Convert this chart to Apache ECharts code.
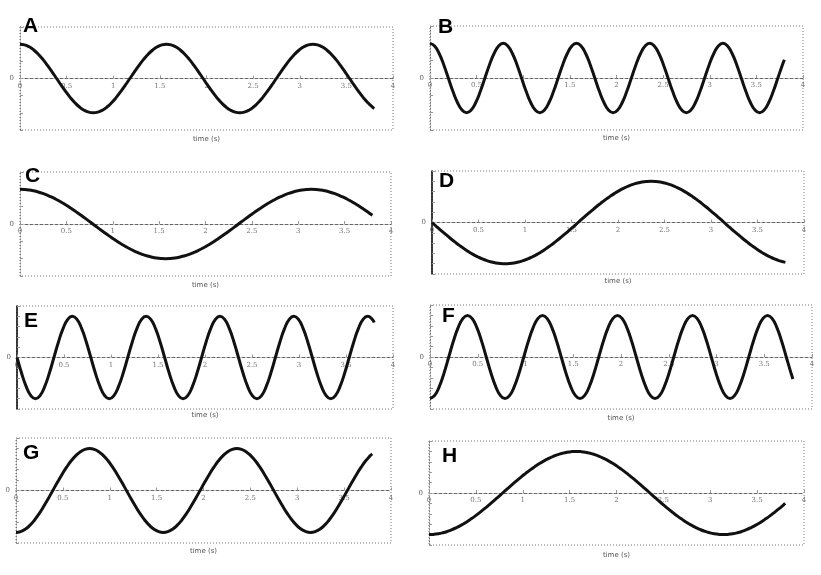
<!DOCTYPE html>
<html>
<head>
<meta charset="utf-8">
<script src="https://cdn.jsdelivr.net/npm/echarts@6/dist/echarts.min.js"></script>
<style>html,body{margin:0;padding:0;background:#fff}#main{width:821px;height:575px}</style>
</head>
<body>
<div id="main"></div>
<script>
// ---- data ----
const panelLabels = ['A','B','C','D','E','F','G','H'];
const xTickLabels = ['0','0.5','1','1.5','2','2.5','3','3.5','4'];
const axisTitle = 'time (s)';

const timeSamples = [0,0.0491,0.0982,0.1473,0.1963,0.2454,0.2945,0.3436,0.3927,0.4418,0.4909,0.5400,0.5890,0.6381,0.6872,0.7363,0.7854,0.8345,0.8836,0.9327,0.9817,1.0308,1.0799,1.1290,1.1781,1.2272,1.2763,1.3254,1.3744,1.4235,1.4726,1.5217,1.5708,1.6199,1.6690,1.7181,1.7671,1.8162,1.8653,1.9144,1.9635,2.0126,2.0617,2.1108,2.1598,2.2089,2.2580,2.3071,2.3562,2.4053,2.4544,2.5035,2.5525,2.6016,2.6507,2.6998,2.7489,2.7980,2.8471,2.8962,2.9452,2.9943,3.0434,3.0925,3.1416,3.1907,3.2398,3.2889,3.3379,3.3870,3.4361,3.4852,3.5343,3.5834,3.6325,3.6816,3.7306,3.7797,3.8];

const valuesA = [1,0.981,0.924,0.831,0.707,0.556,0.383,0.195,0,-0.195,-0.383,-0.556,-0.707,-0.831,-0.924,-0.981,-1,-0.981,-0.924,-0.831,-0.707,-0.556,-0.383,-0.195,0,0.195,0.383,0.556,0.707,0.831,0.924,0.981,
  1,0.981,0.924,0.831,0.707,0.556,0.383,0.195,0,-0.195,-0.383,-0.556,-0.707,-0.831,-0.924,-0.981,-1,-0.981,-0.924,-0.831,-0.707,-0.556,-0.383,-0.195,0,0.195,0.383,0.556,0.707,0.831,0.924,0.981,
  1,0.981,0.924,0.831,0.707,0.556,0.383,0.195,0,-0.195,-0.383,-0.556,-0.707,-0.831,-0.873];
const valuesB = [1,0.924,0.707,0.383,0,-0.383,-0.707,-0.924,-1,-0.924,-0.707,-0.383,0,0.383,0.707,0.924,
  1,0.924,0.707,0.383,0,-0.383,-0.707,-0.924,-1,-0.924,-0.707,-0.383,0,0.383,0.707,0.924,
  1,0.924,0.707,0.383,0,-0.383,-0.707,-0.924,-1,-0.924,-0.707,-0.383,0,0.383,0.707,0.924,
  1,0.924,0.707,0.383,0,-0.383,-0.707,-0.924,-1,-0.924,-0.707,-0.383,0,0.383,0.707,0.924,
  1,0.924,0.707,0.383,0,-0.383,-0.707,-0.924,-1,-0.924,-0.707,-0.383,0,0.383,0.527];
const valuesC = [1,0.995,0.981,0.957,0.924,0.882,0.831,0.773,0.707,0.634,0.556,0.471,0.383,0.290,0.195,0.098,0,-0.098,-0.195,-0.290,-0.383,-0.471,-0.556,-0.634,-0.707,-0.773,-0.831,-0.882,-0.924,-0.957,-0.981,-0.995,
  -1,-0.995,-0.981,-0.957,-0.924,-0.882,-0.831,-0.773,-0.707,-0.634,-0.556,-0.471,-0.383,-0.290,-0.195,-0.098,0,0.098,0.195,0.290,0.383,0.471,0.556,0.634,0.707,0.773,0.831,0.882,0.924,0.957,0.981,0.995,
  1,0.995,0.981,0.957,0.924,0.882,0.831,0.773,0.707,0.634,0.556,0.471,0.383,0.290,0.251];
const valuesD = [0,-0.098,-0.195,-0.290,-0.383,-0.471,-0.556,-0.634,-0.707,-0.773,-0.831,-0.882,-0.924,-0.957,-0.981,-0.995,-1,-0.995,-0.981,-0.957,-0.924,-0.882,-0.831,-0.773,-0.707,-0.634,-0.556,-0.471,-0.383,-0.290,-0.195,-0.098,
  0,0.098,0.195,0.290,0.383,0.471,0.556,0.634,0.707,0.773,0.831,0.882,0.924,0.957,0.981,0.995,1,0.995,0.981,0.957,0.924,0.882,0.831,0.773,0.707,0.634,0.556,0.471,0.383,0.290,0.195,0.098,
  0,-0.098,-0.195,-0.290,-0.383,-0.471,-0.556,-0.634,-0.707,-0.773,-0.831,-0.882,-0.924,-0.957,-0.968];
const valuesE = [0,-0.383,-0.707,-0.924,-1,-0.924,-0.707,-0.383,0,0.383,0.707,0.924,1,0.924,0.707,0.383,
  0,-0.383,-0.707,-0.924,-1,-0.924,-0.707,-0.383,0,0.383,0.707,0.924,1,0.924,0.707,0.383,
  0,-0.383,-0.707,-0.924,-1,-0.924,-0.707,-0.383,0,0.383,0.707,0.924,1,0.924,0.707,0.383,
  0,-0.383,-0.707,-0.924,-1,-0.924,-0.707,-0.383,0,0.383,0.707,0.924,1,0.924,0.707,0.383,
  0,-0.383,-0.707,-0.924,-1,-0.924,-0.707,-0.383,0,0.383,0.707,0.924,1,0.924,0.850];
const valuesF = [-1,-0.924,-0.707,-0.383,0,0.383,0.707,0.924,1,0.924,0.707,0.383,0,-0.383,-0.707,-0.924,
  -1,-0.924,-0.707,-0.383,0,0.383,0.707,0.924,1,0.924,0.707,0.383,0,-0.383,-0.707,-0.924,
  -1,-0.924,-0.707,-0.383,0,0.383,0.707,0.924,1,0.924,0.707,0.383,0,-0.383,-0.707,-0.924,
  -1,-0.924,-0.707,-0.383,0,0.383,0.707,0.924,1,0.924,0.707,0.383,0,-0.383,-0.707,-0.924,
  -1,-0.924,-0.707,-0.383,0,0.383,0.707,0.924,1,0.924,0.707,0.383,0,-0.383,-0.527];
const valuesG = [-1,-0.981,-0.924,-0.831,-0.707,-0.556,-0.383,-0.195,0,0.195,0.383,0.556,0.707,0.831,0.924,0.981,1,0.981,0.924,0.831,0.707,0.556,0.383,0.195,0,-0.195,-0.383,-0.556,-0.707,-0.831,-0.924,-0.981,
  -1,-0.981,-0.924,-0.831,-0.707,-0.556,-0.383,-0.195,0,0.195,0.383,0.556,0.707,0.831,0.924,0.981,1,0.981,0.924,0.831,0.707,0.556,0.383,0.195,0,-0.195,-0.383,-0.556,-0.707,-0.831,-0.924,-0.981,
  -1,-0.981,-0.924,-0.831,-0.707,-0.556,-0.383,-0.195,0,0.195,0.383,0.556,0.707,0.831,0.873];
const valuesH = [-1,-0.995,-0.981,-0.957,-0.924,-0.882,-0.831,-0.773,-0.707,-0.634,-0.556,-0.471,-0.383,-0.290,-0.195,-0.098,0,0.098,0.195,0.290,0.383,0.471,0.556,0.634,0.707,0.773,0.831,0.882,0.924,0.957,0.981,0.995,
  1,0.995,0.981,0.957,0.924,0.882,0.831,0.773,0.707,0.634,0.556,0.471,0.383,0.290,0.195,0.098,0,-0.098,-0.195,-0.290,-0.383,-0.471,-0.556,-0.634,-0.707,-0.773,-0.831,-0.882,-0.924,-0.957,-0.981,-0.995,
  -1,-0.995,-0.981,-0.957,-0.924,-0.882,-0.831,-0.773,-0.707,-0.634,-0.556,-0.471,-0.383,-0.290,-0.251];

// ---- layout (pixels) ----
const panels = [
  {values: valuesA, left: 20,  top: 27,  width: 373, height: 103, yMax: 1.5,  yStep: 0.5,  tl: [23, 16],  solidLeft: false, nameGap: 57},
  {values: valuesB, left: 430, top: 26,  width: 373, height: 104, yMax: 1.5,  yStep: 0.5,  tl: [438, 17], solidLeft: false, nameGap: 57},
  {values: valuesC, left: 20,  top: 172, width: 371, height: 104, yMax: 1.5,  yStep: 0.5,  tl: [25, 166], solidLeft: false, nameGap: 58},
  {values: valuesD, left: 432, top: 171, width: 372, height: 103, yMax: 1.25, yStep: 0.25, tl: [439, 171], solidLeft: true, nameGap: 55},
  {values: valuesE, left: 17,  top: 306, width: 376, height: 103, yMax: 1.25, yStep: 0.25, tl: [24, 311], solidLeft: true,  nameGap: 54},
  {values: valuesF, left: 430, top: 305, width: 382, height: 104, yMax: 1.25, yStep: 0.25, tl: [442, 306], solidLeft: false, nameGap: 58},
  {values: valuesG, left: 16,  top: 438, width: 375, height: 105, yMax: 1.25, yStep: 0.25, tl: [23, 443], solidLeft: false, nameGap: 57},
  {values: valuesH, left: 429, top: 441, width: 375, height: 104, yMax: 1.25, yStep: 0.25, tl: [442, 446], solidLeft: false, nameGap: 59}
];

const chart = echarts.init(document.getElementById('main'), null, {renderer: 'canvas'});
const option = {
  backgroundColor: '#fff',
  animation: false,
  title: [], grid: [], xAxis: [], yAxis: [], series: []
};
panels.forEach((p, i) => {
  option.title.push({
    text: panelLabels[i], left: p.tl[0], top: p.tl[1], padding: 0,
    textStyle: {fontFamily: 'Liberation Sans, Arial, sans-serif', fontSize: 21, fontWeight: 'bold', color: '#000'}
  });
  option.grid.push({
    left: p.left, top: p.top, width: p.width, height: p.height,
    show: true, borderColor: '#777', borderWidth: 1, borderType: [1, 2], backgroundColor: '#fff'
  });
  option.xAxis.push({
    type: 'value', gridIndex: i, min: 0, max: 4, interval: 0.5,
    position: 'bottom', offset: -p.height / 2,
    name: axisTitle, nameLocation: 'middle', nameGap: p.nameGap,
    nameTextStyle: {fontSize: 7, color: '#555', fontFamily: 'DejaVu Sans'},
    axisLine: {onZero: false, lineStyle: {color: '#666', width: 1, type: [3, 2]}},
    axisTick: {show: true, inside: true, length: 3, lineStyle: {color: '#999'}},
    axisLabel: {fontSize: 7, color: '#777', margin: 4, fontFamily: 'DejaVu Serif',
      formatter: v => xTickLabels[Math.round(v / 0.5)] || ''},
    splitLine: {show: false}
  });
  option.yAxis.push({
    type: 'value', gridIndex: i, min: -p.yMax, max: p.yMax, interval: p.yStep,
    axisLine: {show: true, lineStyle: p.solidLeft ? {color: '#000', width: 1.5} : {color: '#777', width: 1, type: [1, 2]}},
    axisTick: {show: true, length: 3, inside: true, lineStyle: {color: '#999'}},
    axisLabel: {fontSize: 7, color: '#666', margin: 6, fontFamily: 'DejaVu Serif',
      formatter: v => (Math.abs(v) < 1e-9 ? '0' : '')},
    splitLine: {show: false}
  });
  option.series.push({
    type: 'line', xAxisIndex: i, yAxisIndex: i, smooth: true, showSymbol: false,
    lineStyle: {color: '#111', width: 3},
    data: timeSamples.map((t, k) => [t, p.values[k]])
  });
});
chart.setOption(option);
</script>
</body>
</html>
